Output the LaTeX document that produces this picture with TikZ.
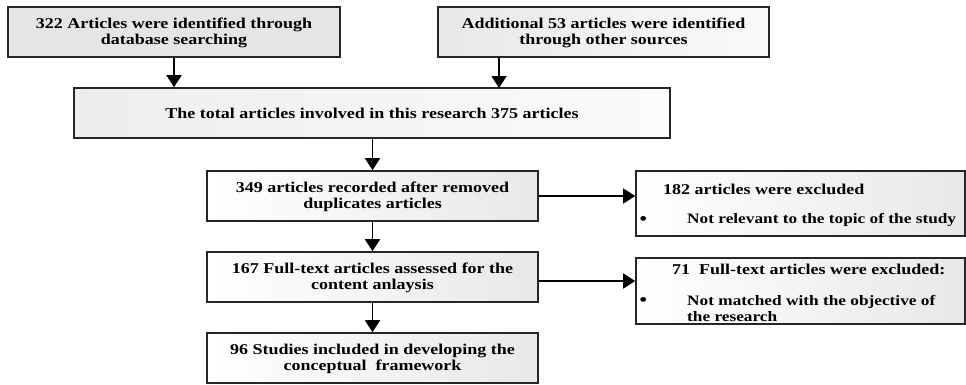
\documentclass[tikz,border=0pt]{standalone}
\usepackage{fontspec}
\setmainfont{Liberation Serif}[FakeStretch=1.2]
\usetikzlibrary{arrows.meta,calc}
\begin{document}
\begin{tikzpicture}[x=1pt,y=-1pt,
  boxbase/.style={draw=black!85,line width=1.6pt,inner sep=0pt},
  flowarrow/.style={line width=1.8pt,-{Triangle[length=12pt,width=15pt]}},
  txt/.style={font=\fontsize{15}{16}\selectfont\bfseries,align=center,inner sep=0pt},
  ltxt/.style={font=\fontsize{15}{16}\selectfont\bfseries,align=left,inner sep=0pt,anchor=west},
  btxt/.style={ltxt,font=\fontsize{14.4}{16}\selectfont\bfseries},
  bul/.style={ltxt,font=\fontsize{20}{16}\selectfont}]
\useasboundingbox (0,0) rectangle (966,384);
% top boxes
\node[boxbase,fill=gray!20,minimum width=332pt,minimum height=50pt] (a) at (174,32) {};
\node[txt] at ($(a.center)+(0,1)$) {322 Articles were identified through\\database searching};
\node[boxbase,left color=gray!18,right color=gray!4,minimum width=331pt,minimum height=50pt] (b) at (603.5,32) {};
\node[txt] at ($(b.center)+(0,1)$) {Additional 53 articles were identified\\through other sources};
% total
\node[boxbase,left color=gray!14,right color=gray!3,minimum width=596pt,minimum height=50pt] (t) at (372,113) {};
\node[txt] at (t.center) {The total articles involved in this research 375 articles};
% main column
\node[boxbase,left color=white,right color=gray!18,minimum width=331pt,minimum height=50pt] (c) at (372.5,196) {};
\node[txt] at ($(c.center)+(0,1)$) {349 articles recorded after removed\\duplicates articles};
\node[boxbase,left color=white,right color=gray!18,minimum width=331pt,minimum height=50pt] (d) at (372.5,277) {};
\node[txt] at ($(d.center)+(0,1)$) {167 Full-text articles assessed for the\\content anlaysis};
\node[boxbase,left color=white,right color=gray!18,minimum width=331pt,minimum height=50pt] (e) at (372.5,358) {};
\node[txt] at ($(e.center)+(0,1)$) {96 Studies included in developing the\\conceptual\ \ framework};
% exclusion boxes
\node[boxbase,left color=white,right color=gray!18,minimum width=329pt,minimum height=65pt] (f) at (800.5,203.5) {};
\node[ltxt] (f1) at (663,189) {182 articles were excluded};
\node[bul] (fb) at (639,221) {\textbullet};
\node[btxt] (f2) at (687,220) {Not relevant to the topic of the study};
\node[boxbase,left color=white,right color=gray!18,minimum width=329pt,minimum height=66pt] (g) at (800.5,291) {};
\node[ltxt] (g1) at (672,269) {71\ \ Full-text articles were excluded:};
\node[bul] (gb) at (639,302) {\textbullet};
\node[btxt] (g2) at (687,308) {Not matched with the objective of\\the research};
% arrows
\draw[flowarrow] (a.south) -- (a.south |- t.north);
\draw[flowarrow] (499,57) -- (499,88);
\draw[flowarrow] (t.south -| c.north) -- (c.north);
\draw[flowarrow] (c.south) -- (d.north);
\draw[flowarrow] (d.south) -- (e.north);
\draw[flowarrow] (c.east) -- (c.east -| f.west);
\draw[flowarrow] ($(d.east)+(0,4)$) -- ($(d.east -| g.west)+(0,4)$);
\end{tikzpicture}
\end{document}
